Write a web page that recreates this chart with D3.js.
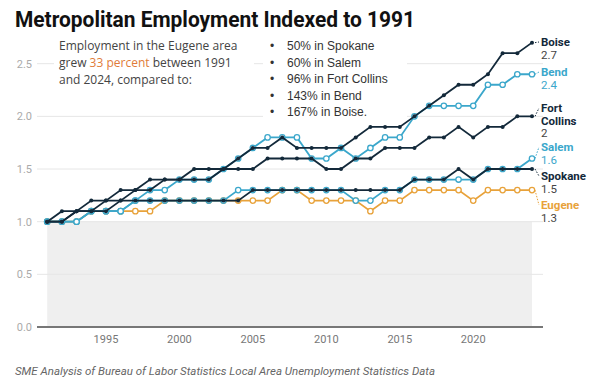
<!DOCTYPE html>
<html>
<head>
<meta charset="utf-8">
<script src="https://cdn.jsdelivr.net/npm/d3@7"></script>
<style>
  body { margin: 0; background: #fff; }
  svg { display: block; }
</style>
</head>
<body>
<svg></svg>
<script>
const WIDTH = 600;
const HEIGHT = 385;

// Data (index, 1991 = 1.0)
const years = [1991, 1992, 1993, 1994, 1995, 1996, 1997, 1998, 1999, 2000,
  2001, 2002, 2003, 2004, 2005, 2006, 2007, 2008, 2009, 2010,
  2011, 2012, 2013, 2014, 2015, 2016, 2017, 2018, 2019, 2020,
  2021, 2022, 2023, 2024];
const boise = [1.0, 1.1, 1.1, 1.2, 1.2, 1.3, 1.3, 1.4, 1.4, 1.4,
  1.5, 1.5, 1.5, 1.6, 1.7, 1.7, 1.8, 1.7, 1.7, 1.7,
  1.7, 1.8, 1.9, 1.9, 1.9, 2.0, 2.1, 2.2, 2.3, 2.3,
  2.4, 2.6, 2.6, 2.7];
const bend = [1.0, 1.0, 1.0, 1.1, 1.1, 1.1, 1.2, 1.3, 1.3, 1.4,
  1.4, 1.4, 1.5, 1.6, 1.7, 1.8, 1.8, 1.8, 1.6, 1.6,
  1.7, 1.6, 1.7, 1.8, 1.8, 2.0, 2.1, 2.1, 2.1, 2.1,
  2.3, 2.3, 2.4, 2.4];
const fortCollins = [1.0, 1.0, 1.1, 1.1, 1.2, 1.2, 1.3, 1.3, 1.4, 1.4,
  1.4, 1.4, 1.5, 1.5, 1.5, 1.6, 1.6, 1.6, 1.6, 1.5,
  1.5, 1.6, 1.6, 1.7, 1.7, 1.7, 1.8, 1.8, 1.9, 1.8,
  1.9, 1.9, 2.0, 2.0];
const salem = [1.0, 1.0, 1.0, 1.1, 1.1, 1.1, 1.2, 1.2, 1.2, 1.2,
  1.2, 1.2, 1.2, 1.3, 1.3, 1.3, 1.3, 1.3, 1.3, 1.3,
  1.3, 1.2, 1.2, 1.3, 1.3, 1.4, 1.4, 1.4, 1.4, 1.4,
  1.5, 1.5, 1.5, 1.6];
const spokane = [1.0, 1.0, 1.1, 1.1, 1.1, 1.2, 1.2, 1.2, 1.2, 1.2,
  1.2, 1.2, 1.2, 1.2, 1.3, 1.3, 1.3, 1.3, 1.3, 1.3,
  1.3, 1.3, 1.3, 1.3, 1.3, 1.4, 1.4, 1.4, 1.5, 1.4,
  1.5, 1.5, 1.5, 1.5];
const eugene = [1.0, 1.0, 1.0, 1.1, 1.1, 1.1, 1.1, 1.1, 1.2, 1.2,
  1.2, 1.2, 1.2, 1.2, 1.2, 1.2, 1.3, 1.3, 1.2, 1.2,
  1.2, 1.2, 1.1, 1.2, 1.2, 1.3, 1.3, 1.3, 1.3, 1.2,
  1.3, 1.3, 1.3, 1.3];

const yTicks = [0, 0.5, 1, 1.5, 2, 2.5];
const xTicks = [1995, 2000, 2005, 2010, 2015, 2020];
const bullets = ['50% in Spokane', '60% in Salem', '96% in Fort Collins',
  '143% in Bend', '167% in Boise.'];

const DARK = '#13293a';
const BLUE = '#3ba7cb';
const ORANGE = '#e8a23a';

// Series drawn bottom to top; label lines/position are layout only.
const series = [
  {name: ['Eugene'], values: eugene, color: ORANGE, hollow: true, labelY: 205},
  {name: ['Salem'], values: salem, color: BLUE, hollow: true, labelY: 147},
  {name: ['Bend'], values: bend, color: BLUE, hollow: true, labelY: 72},
  {name: ['Spokane'], values: spokane, color: DARK, hollow: false, labelY: 176},
  {name: ['Fort', 'Collins'], values: fortCollins, color: DARK, hollow: false, labelY: 108},
  {name: ['Boise'], values: boise, color: DARK, hollow: false, labelY: 42}
];

const svg = d3.select('svg')
  .attr('width', WIDTH)
  .attr('height', HEIGHT)
  .attr('viewBox', `0 0 ${WIDTH} ${HEIGHT}`);

const x = d3.scaleLinear().domain([1991, 2024]).range([47.2, 532]);
const y = d3.scaleLinear().domain([0, 2.5]).range([327, 63.7]);

// Title
svg.append('text')
  .attr('x', 15)
  .attr('y', 27)
  .attr('textLength', 400)
  .attr('lengthAdjust', 'spacingAndGlyphs')
  .style('font-family', 'Roboto, sans-serif')
  .style('font-weight', 700)
  .style('font-size', '22px')
  .style('fill', '#111')
  .text('Metropolitan Employment Indexed to 1991');

// Shaded area under 1.0
svg.append('rect')
  .attr('x', x(1991))
  .attr('y', y(1))
  .attr('width', x(2024) - x(1991))
  .attr('height', y(0) - y(1))
  .style('fill', '#efefef');

// Gridlines + y labels
const yAxis = svg.append('g');
yAxis.selectAll('line')
  .data(yTicks.filter(d => d > 0))
  .enter()
  .append('line')
  .attr('x1', 37)
  .attr('x2', 543)
  .attr('y1', d => y(d))
  .attr('y2', d => y(d))
  .style('stroke', '#e6e6e6')
  .style('stroke-width', 1);
yAxis.selectAll('text')
  .data(yTicks)
  .enter()
  .append('text')
  .attr('x', 32)
  .attr('y', d => y(d))
  .attr('dy', '0.35em')
  .attr('text-anchor', 'end')
  .style('font-family', 'Roboto, sans-serif')
  .style('font-size', '11px')
  .style('fill', '#aaa')
  .text(d3.format('.1f'));

// Baseline
svg.append('line')
  .attr('x1', 37)
  .attr('x2', 543)
  .attr('y1', y(0))
  .attr('y2', y(0))
  .style('stroke', '#777')
  .style('stroke-width', 2);

// x labels
svg.append('g')
  .selectAll('text')
  .data(xTicks)
  .enter()
  .append('text')
  .attr('x', d => x(d))
  .attr('y', 343)
  .attr('text-anchor', 'middle')
  .style('font-family', 'Roboto, sans-serif')
  .style('font-size', '11px')
  .style('fill', '#777')
  .text(d => d);

// Annotation boxes (white background hides the gridlines)
svg.append('rect')
  .attr('x', 54).attr('y', 36).attr('width', 200).attr('height', 52)
  .style('fill', '#fff');
svg.append('rect')
  .attr('x', 263).attr('y', 36).attr('width', 144).attr('height', 84)
  .style('fill', '#fff');

const note = svg.append('text')
  .style('font-family', '"Open Sans", sans-serif')
  .style('font-size', '12px')
  .style('fill', '#444');
note.append('tspan').attr('x', 59).attr('y', 50).text('Employment in the Eugene area');
const l2 = note.append('tspan').attr('x', 59).attr('y', 67);
l2.append('tspan').text('grew ');
l2.append('tspan').style('fill', '#e07b39').text('33 percent');
l2.append('tspan').text(' between 1991');
note.append('tspan').attr('x', 59).attr('y', 84).text('and 2024, compared to:');

const bulletG = svg.append('g')
  .style('font-family', '"Liberation Sans", Arial, sans-serif')
  .style('font-size', '12px')
  .style('fill', '#333');
bulletG.selectAll('text.dot')
  .data(bullets)
  .enter()
  .append('text')
  .attr('class', 'dot')
  .attr('x', 270)
  .attr('y', (d, i) => 50 + i * 16.6)
  .text('•');
bulletG.selectAll('text.item')
  .data(bullets)
  .enter()
  .append('text')
  .attr('class', 'item')
  .attr('x', 287)
  .attr('y', (d, i) => 50 + i * 16.6)
  .text(d => d);

// Lines and markers
const lineGen = d3.line()
  .x((d, i) => x(years[i]))
  .y(d => y(d));

for (const s of series) {
  const g = svg.append('g');
  g.append('path')
    .datum(s.values)
    .attr('d', lineGen)
    .style('fill', 'none')
    .style('stroke', s.color)
    .style('stroke-width', 1.8);
  g.selectAll('circle')
    .data(s.values)
    .enter()
    .append('circle')
    .attr('cx', (d, i) => x(years[i]))
    .attr('cy', d => y(d))
    .attr('r', s.hollow ? 2.7 : 2)
    .style('fill', s.hollow ? '#fff' : s.color)
    .style('stroke', s.color)
    .style('stroke-width', s.hollow ? 1.3 : 0);
}

// End labels
const labelG = svg.append('g')
  .style('font-family', 'Roboto, sans-serif')
  .style('font-size', '11.5px');
for (const s of series) {
  const last = s.values[s.values.length - 1];
  labelG.append('line')
    .attr('x1', x(2024) + 3)
    .attr('y1', y(last))
    .attr('x2', 539)
    .attr('y2', s.labelY)
    .style('stroke', s.color)
    .style('stroke-width', 1)
    .style('stroke-dasharray', '1.5,1.5');
  s.name.forEach((n, i) => {
    labelG.append('text')
      .attr('x', 541)
      .attr('y', s.labelY + i * 12.5)
      .attr('dy', '0.35em')
      .style('font-weight', 700)
      .style('fill', s.color)
      .text(n);
  });
  labelG.append('text')
    .attr('x', 541)
    .attr('y', s.labelY + s.name.length * 12.5)
    .attr('dy', '0.35em')
    .style('fill', s.color === BLUE ? BLUE : '#444')
    .text(d3.format('')(last));
}

// Source
svg.append('text')
  .attr('x', 15)
  .attr('y', 375)
  .attr('textLength', 420)
  .attr('lengthAdjust', 'spacingAndGlyphs')
  .style('font-family', 'Roboto, sans-serif')
  .style('font-style', 'italic')
  .style('font-size', '11px')
  .style('fill', '#666')
  .text('SME Analysis of Bureau of Labor Statistics Local Area Unemployment Statistics Data');
</script>
</body>
</html>
